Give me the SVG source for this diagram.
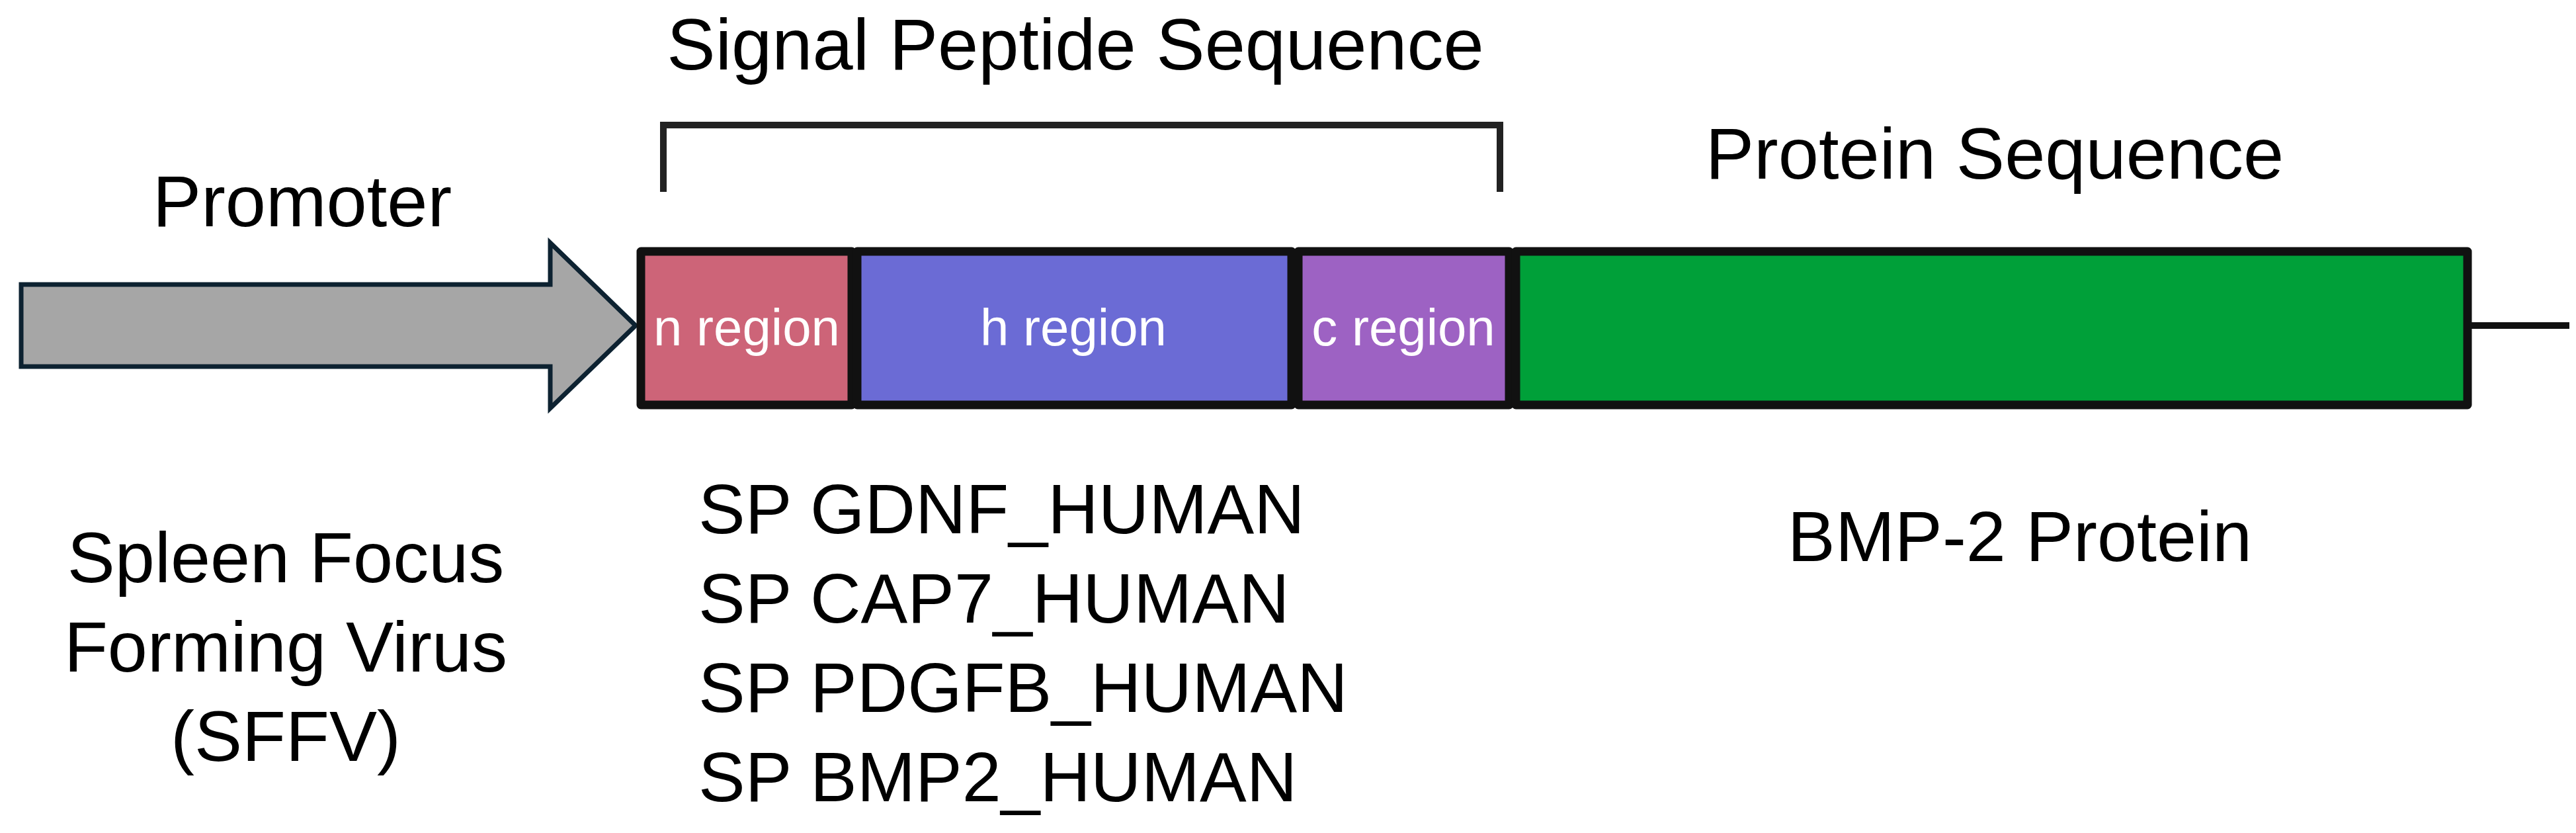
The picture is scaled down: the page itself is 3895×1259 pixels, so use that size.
<svg xmlns="http://www.w3.org/2000/svg" width="3895" height="1259" viewBox="0 0 3895 1259">
<style>
.t{font-family:"Liberation Sans",Arial,sans-serif;fill:#000}
.w{font-family:"Liberation Sans",Arial,sans-serif;fill:#fff;font-size:78px;text-anchor:middle}
.box{stroke:#111;stroke-width:13;stroke-linejoin:round}
</style>
<rect width="3895" height="1259" fill="#fff"/>
<g id="promoter">
<polygon points="32,430 832,430 832,367 961,492 832,617 832,554 32,554" fill="#a6a6a6" stroke="#0d2231" stroke-width="7"/>
<text class="t" x="457" y="342" font-size="110" text-anchor="middle">Promoter</text>
</g>
<g id="n_region"><rect class="box" x="969" y="380" width="319" height="232" fill="#cd6478"/><text class="w" x="1129" y="522">n region</text></g>
<g id="h_region"><rect class="box" x="1296" y="380" width="657" height="232" fill="#6b6bd5"/><text class="w" x="1623" y="522">h region</text></g>
<g id="c_region"><rect class="box" x="1963" y="380" width="319" height="232" fill="#9d62c3"/><text class="w" x="2122" y="522">c region</text></g>
<g id="protein"><rect class="box" x="2292" y="380" width="1439" height="232" fill="#00a039"/>
<text class="t" x="3016" y="270" font-size="110" text-anchor="middle">Protein Sequence</text>
<text class="t" x="3054" y="848" font-size="108" text-anchor="middle">BMP-2 Protein</text></g>
<g id="connectors">
<line x1="3731" y1="492" x2="3885" y2="492" stroke="#111" stroke-width="10"/>
<polyline points="1003,290 1003,189 2268,189 2268,290" fill="none" stroke="#222" stroke-width="10"/>
</g>
<g id="signal">
<text class="t" x="1626" y="105" font-size="110" text-anchor="middle">Signal Peptide Sequence</text>
<text class="t" x="1056" y="806" font-size="106">SP GDNF_HUMAN</text>
<text class="t" x="1056" y="941" font-size="106">SP CAP7_HUMAN</text>
<text class="t" x="1056" y="1076" font-size="106">SP PDGFB_HUMAN</text>
<text class="t" x="1056" y="1211" font-size="106">SP BMP2_HUMAN</text>
</g>
<g id="sffv">
<text class="t" x="432" y="880" font-size="108" text-anchor="middle">Spleen Focus</text>
<text class="t" x="432" y="1015" font-size="108" text-anchor="middle">Forming Virus</text>
<text class="t" x="432" y="1150" font-size="108" text-anchor="middle">(SFFV)</text>
</g>
</svg>
